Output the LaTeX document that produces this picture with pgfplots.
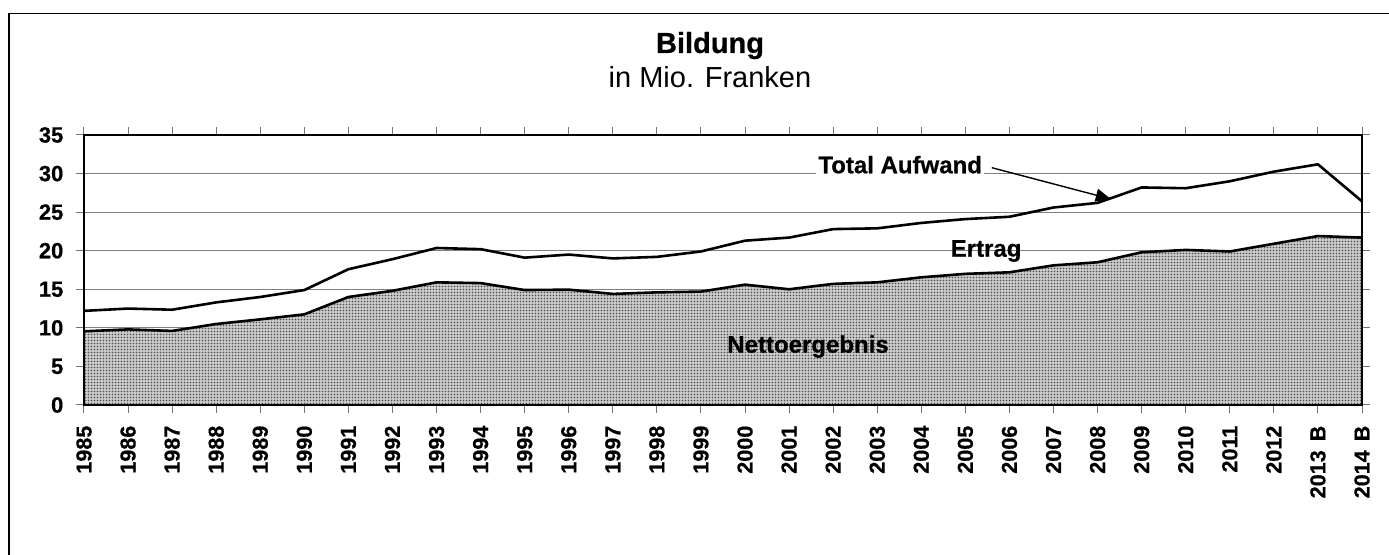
\documentclass[border=0pt]{standalone}
\usepackage{pgfplots}
\pgfplotsset{compat=1.18}
\usepackage{fontspec}
\setmainfont{Liberation Sans}[BoldFeatures={FakeBold=0.6}]
\usetikzlibrary{patterns.meta,arrows.meta}
\tikzdeclarepattern{
  name=finedots,
  type=uncolored,
  bottom left={(-.1pt,-.1pt)},
  top right={(1.6pt,1.6pt)},
  tile size={(1.5pt,1.5pt)},
  code={\fill (0.75pt,0.75pt) circle (0.45pt);}
}
\pgfplotstableread{
x total netto
0 12.2 9.55
1 12.5 9.8
2 12.35 9.6
3 13.3 10.5
4 14.0 11.1
5 14.9 11.75
6 17.6 14.0
7 18.9 14.8
8 20.35 15.9
9 20.2 15.8
10 19.1 14.9
11 19.5 14.95
12 19.0 14.4
13 19.2 14.6
14 19.9 14.7
15 21.3 15.6
16 21.7 15.0
17 22.8 15.7
18 22.9 15.9
19 23.6 16.55
20 24.1 17.0
21 24.4 17.2
22 25.6 18.1
23 26.2 18.5
24 28.2 19.8
25 28.1 20.1
26 29.0 19.9
27 30.25 20.9
28 31.2 21.9
29 26.4 21.7
}\datatable
\begin{document}
\begin{tikzpicture}
\useasboundingbox (0,0) rectangle (694.5pt,277.5pt);
\fill[white] (0,0) rectangle (694.5pt,277.5pt);
\draw[line width=0.8pt] (4.6pt,-2pt) -- (4.6pt,270.8pt) -- (697pt,270.8pt);
\node[anchor=base,font=\bfseries\fontsize{14.5}{17}\selectfont] at (355pt,251pt) {Bildung};
\node[anchor=base,font=\fontsize{14.5}{17}\selectfont] at (355pt,233.6pt) {in Mio. Franken};
\begin{axis}[
  at={(42pt,75pt)}, anchor=south west,
  scale only axis, width=639pt, height=135pt,
  xmin=0, xmax=29, ymin=0, ymax=35,
  axis line style={draw=none},
  ytick={0,5,...,35},
  xtick={0,...,29},
  xticklabels={1985,1986,1987,1988,1989,1990,1991,1992,1993,1994,1995,1996,1997,1998,1999,2000,2001,2002,2003,2004,2005,2006,2007,2008,2009,2010,2011,2012,2013\hspace{1.5pt} B,2014\hspace{1.5pt} B},
  tick align=outside,
  major tick length=3.8pt,
  tick style={draw=black!55, line width=0.5pt},
  ymajorgrids, grid style={draw=black!50, line width=0.5pt},
  /pgf/number format/assume math mode=true,
  yticklabel style={font=\bfseries\fontsize{11}{13}\selectfont, xshift=-3pt},
  xticklabel style={font=\bfseries\fontsize{10.8}{12}\selectfont, rotate=90, anchor=east, yshift=0pt, xshift=-3pt},
  clip=false,
]
\addplot[draw=none, fill=black!20, postaction={pattern={finedots}, pattern color=black!70}] table[x=x,y=netto] {\datatable} \closedcycle;
\addplot[black, line width=1.3pt] table[x=x,y=total] {\datatable};
\addplot[black, line width=1.3pt] table[x=x,y=netto] {\datatable};
\draw[black, line width=1pt] (rel axis cs:0,0) rectangle (rel axis cs:1,1);
\node[anchor=base, font=\bfseries\fontsize{12}{14}\selectfont, fill=white, inner sep=1pt] at (axis cs:18.52,30.04) {Total Aufwand};
\draw[line width=0.7pt, -{Triangle[length=7.5pt,width=6.5pt]}] (axis cs:20.60,30.76) -- (axis cs:23.30,26.70);
\node[anchor=base, font=\bfseries\fontsize{12}{14}\selectfont] at (axis cs:20.47,19.22) {Ertrag};
\node[anchor=base, font=\bfseries\fontsize{12}{14}\selectfont] at (axis cs:16.43,6.78) {Nettoergebnis};
\end{axis}
\end{tikzpicture}
\end{document}
